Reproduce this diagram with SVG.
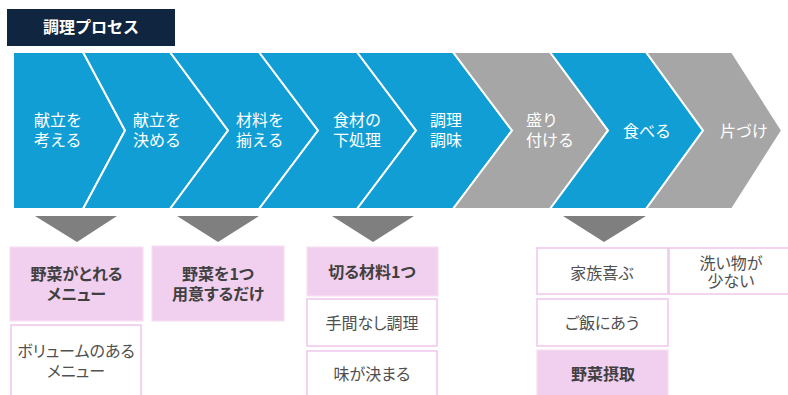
<svg xmlns="http://www.w3.org/2000/svg" width="788" height="395" viewBox="0 0 788 395">
<style>
.blue{fill:#119ed5;stroke:#ffffff;stroke-width:2;stroke-linejoin:miter}
.gray{fill:#a6a6a6;stroke:#ffffff;stroke-width:2;stroke-linejoin:miter}
.ct{font-family:"Noto Sans CJK JP","Noto Sans",sans-serif;font-size:16px;fill:#ffffff}
.tri{fill:#7f7f7f}
.pk{fill:#f1cfee;stroke:#f7dff4;stroke-width:1.2}
.wb{fill:#ffffff;stroke:#f0c6ec;stroke-width:1.5}
.bt{font-family:"Noto Sans CJK JP","Noto Sans",sans-serif;font-size:16px;font-weight:bold;fill:#404040;text-anchor:middle;font-feature-settings:"palt"}
.rt{font-family:"Noto Sans CJK JP","Noto Sans",sans-serif;font-size:16px;fill:#505050;text-anchor:middle;font-feature-settings:"palt"}
</style>
<g id="title">
<rect x="7" y="9" width="168" height="37" fill="#10253f"/>
<text x="91" y="33" font-family="'Noto Sans CJK JP','Noto Sans',sans-serif" font-size="16" font-weight="bold" fill="#ffffff" text-anchor="middle">調理プロセス</text>
</g>
<g id="step1">
<polygon class="blue" points="13,52 83,52 125,130.5 83,209 13,209"/>
<text class="ct" x="34" y="126">献立を</text><text class="ct" x="34" y="145.5">考える</text>
</g>
<g id="step2">
<polygon class="blue" points="83,52 170,52 228,130.5 170,209 83,209 125,130.5"/>
<text class="ct" x="133" y="126">献立を</text><text class="ct" x="133" y="145.5">決める</text>
</g>
<g id="step3">
<polygon class="blue" points="170,52 259,52 318,130.5 259,209 170,209 228,130.5"/>
<text class="ct" x="236" y="126">材料を</text><text class="ct" x="236" y="145.5">揃える</text>
</g>
<g id="step4">
<polygon class="blue" points="259,52 357,52 416,130.5 357,209 259,209 318,130.5"/>
<text class="ct" x="333" y="126">食材の</text><text class="ct" x="333" y="145.5">下処理</text>
</g>
<g id="step5">
<polygon class="blue" points="357,52 453,52 512,130.5 453,209 357,209 416,130.5"/>
<text class="ct" x="430" y="126">調理</text><text class="ct" x="430" y="145.5">調味</text>
</g>
<g id="step6">
<polygon class="gray" points="453,52 550,52 608,130.5 550,209 453,209 512,130.5"/>
<text class="ct" x="526" y="126">盛り</text><text class="ct" x="526" y="145.5">付ける</text>
</g>
<g id="step7">
<polygon class="blue" points="550,52 646,52 703,130.5 646,209 550,209 608,130.5"/>
<text class="ct" x="623" y="137">食べる</text>
</g>
<g id="step8">
<polygon class="gray" points="646,52 732,52 782,130.5 732,209 646,209 703,130.5"/>
<text class="ct" x="720" y="137">片づけ</text>
</g>
<g id="connectors">
<polygon class="tri" points="35,216 117,216 77,242"/>
<polygon class="tri" points="177,216 259,216 218,242"/>
<polygon class="tri" points="332,216 414,216 373,242"/>
<polygon class="tri" points="563,216 646,216 604,242"/>
</g>
<g id="boxA">
<rect class="pk" x="10" y="247" width="133" height="74"/>
<text class="bt" x="76.5" y="280">野菜がとれる</text><text class="bt" x="76.5" y="300">メニュー</text>
</g>
<g id="boxB">
<rect class="wb" x="11" y="325" width="130" height="75"/>
<text class="rt" x="76" y="357">ボリュームのある</text><text class="rt" x="76" y="377">メニュー</text>
</g>
<g id="boxC">
<rect class="pk" x="152" y="246" width="132" height="75"/>
<text class="bt" x="218" y="280">野菜を1つ</text><text class="bt" x="218" y="300">用意するだけ</text>
</g>
<g id="boxD">
<rect class="pk" x="307" y="247" width="131" height="49"/>
<text class="bt" x="372" y="278">切る材料1つ</text>
</g>
<g id="boxE">
<rect class="wb" x="307" y="299" width="130" height="47"/>
<text class="rt" x="372" y="329">手間なし調理</text>
</g>
<g id="boxF">
<rect class="wb" x="307" y="351" width="130" height="50"/>
<text class="rt" x="372" y="380">味が決まる</text>
</g>
<g id="boxG">
<rect class="wb" x="537" y="248" width="131" height="46"/>
<text class="rt" x="602" y="279">家族喜ぶ</text>
</g>
<g id="boxH">
<rect class="wb" x="669" y="248" width="121" height="46"/>
<text class="rt" x="731" y="269">洗い物が</text><text class="rt" x="731" y="287">少ない</text>
</g>
<g id="boxI">
<rect class="wb" x="537" y="299" width="131" height="47"/>
<text class="rt" x="602" y="329">ご飯にあう</text>
</g>
<g id="boxJ">
<rect class="pk" x="537" y="350" width="131" height="50"/>
<text class="bt" x="603" y="380">野菜摂取</text>
</g>
</svg>
